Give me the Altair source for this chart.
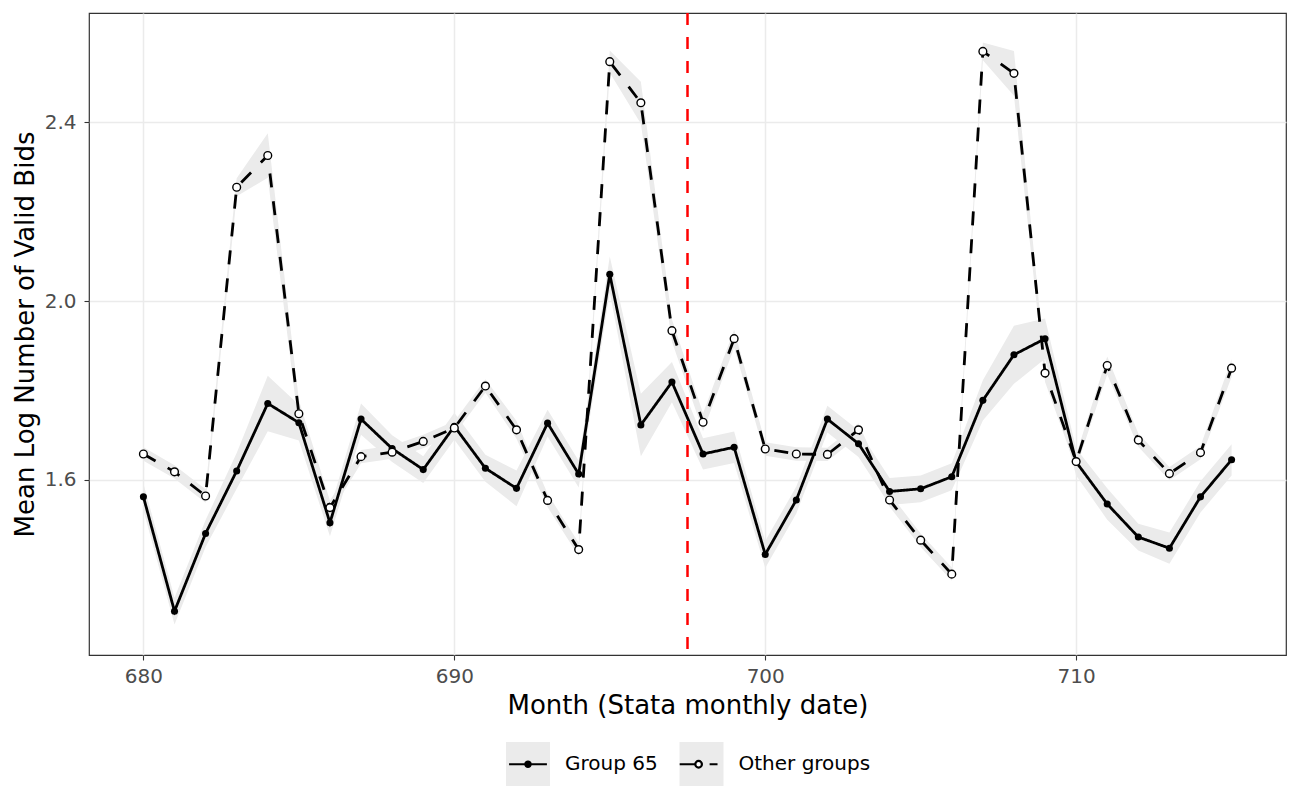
import altair as alt
import pandas as pd

months = list(range(680, 716))
groups = ["Group 65", "Other groups"]

g65_mean = [1.562, 1.306, 1.480, 1.620, 1.771, 1.728, 1.504, 1.736, 1.670, 1.623,
            1.720, 1.626, 1.581, 1.727, 1.613, 2.060, 1.723, 1.819, 1.658, 1.673,
            1.433, 1.555, 1.736, 1.681, 1.574, 1.580, 1.607, 1.778, 1.880, 1.916,
            1.640, 1.546, 1.472, 1.447, 1.562, 1.645]
g65_ci = [0.030, 0.030, 0.030, 0.040, 0.062, 0.040, 0.030, 0.035, 0.030, 0.030,
          0.030, 0.030, 0.040, 0.030, 0.030, 0.040, 0.070, 0.045, 0.035, 0.035,
          0.030, 0.030, 0.030, 0.030, 0.030, 0.030, 0.030, 0.045, 0.065, 0.045,
          0.030, 0.035, 0.030, 0.035, 0.035, 0.035]

oth_mean = [1.658, 1.618, 1.564, 2.255, 2.326, 1.748, 1.538, 1.652, 1.662, 1.686,
            1.716, 1.810, 1.712, 1.554, 1.444, 2.536, 2.444, 1.934, 1.729, 1.916,
            1.669, 1.658, 1.657, 1.712, 1.555, 1.465, 1.389, 2.559, 2.510, 1.839,
            1.641, 1.856, 1.689, 1.614, 1.661, 1.850]
oth_ci = [0.015, 0.015, 0.015, 0.020, 0.050, 0.030, 0.015, 0.015, 0.015, 0.015,
          0.015, 0.015, 0.020, 0.015, 0.015, 0.025, 0.047, 0.025, 0.020, 0.020,
          0.015, 0.015, 0.015, 0.015, 0.015, 0.015, 0.015, 0.020, 0.050, 0.020,
          0.015, 0.020, 0.015, 0.015, 0.015, 0.020]

cutoff = [697.5]
x_ticks = [680, 690, 700, 710]
y_ticks = [1.6, 2.0, 2.4]

rows = []
for g, means, cis in [(groups[0], g65_mean, g65_ci), (groups[1], oth_mean, oth_ci)]:
    for m, v, c in zip(months, means, cis):
        rows.append({"month": m, "group": g, "group_b": g, "group_c": g,
                     "mean": v, "lo": v - c, "hi": v + c})
df = pd.DataFrame(rows)
cut_df = pd.DataFrame({"month": cutoff})

FONT = "DejaVu Sans"

x_axis = alt.Axis(values=x_ticks, format="d", title="Month (Stata monthly date)",
                  labelFont=FONT, labelFontSize=20, labelColor="#4d4d4d", labelPadding=6,
                  titleFont=FONT, titleFontSize=26, titleColor="black", titleFontWeight="normal",
                  titlePadding=6, tickColor="#333333", tickSize=5, tickWidth=1.1,
                  gridColor="#ebebeb", gridWidth=1.5, domain=False)
y_axis = alt.Axis(values=y_ticks, format=".1f", title="Mean Log Number of Valid Bids",
                  labelFont=FONT, labelFontSize=20, labelColor="#4d4d4d", labelPadding=8,
                  titleFont=FONT, titleFontSize=26, titleColor="black", titleFontWeight="normal",
                  titlePadding=6, tickColor="#333333", tickSize=5, tickWidth=1.1,
                  gridColor="#ebebeb", gridWidth=1.5, domain=False)

x_scale = alt.Scale(domain=[678.25, 716.75], nice=False, zero=False)
y_scale = alt.Scale(domain=[1.208, 2.645], nice=False, zero=False)

X = alt.X("month:Q", scale=x_scale, axis=x_axis)
Y = alt.Y("mean:Q", scale=y_scale, axis=y_axis)

LEG_X = 415.5
LEG_Y = 727.5
common_leg = dict(orient="none", direction="horizontal", legendX=LEG_X, legendY=LEG_Y,
                  title=None, symbolSize=1936, symbolStrokeWidth=2.2, symbolOpacity=1,
                  labelFontSize=20, labelFont=FONT, labelOffset=13.5, padding=0)

# key backgrounds (ribbon) with the visible labels
leg_a = alt.Legend(symbolType="square", symbolStrokeColor="transparent",
                   labelColor="black", columnPadding=16.5, **common_leg)
# line + point keys drawn on top of them (no labels of their own)
leg_b = alt.Legend(labelExpr="''", zindex=2, columnPadding=16.5 + 93.1, **common_leg)

path_g65 = ("M-0.86,0L0.86,0M0.12,0A0.12,0.12,0,1,1,-0.12,0"
            "A0.12,0.12,0,1,1,0.12,0Z")
path_oth = ("M-0.86,0L-0.15,0M0.15,0A0.15,0.15,0,1,1,-0.15,0"
            "A0.15,0.15,0,1,1,0.15,0ZM0.5,0L0.86,0")

ribbon = alt.Chart(df).mark_area(opacity=1).encode(
    x=X,
    y=alt.Y("lo:Q", scale=y_scale, axis=y_axis),
    y2="hi:Q",
    color=alt.Color("group:N", scale=alt.Scale(range=["#ebebeb", "#ebebeb"]), legend=leg_a),
)

lines = alt.Chart(df).mark_line(color="black", strokeWidth=2.8).encode(
    x=X, y=Y,
    strokeDash=alt.StrokeDash("group_c:N",
                              scale=alt.Scale(range=[[1, 0], [14, 14]]),
                              legend=None),
)

pts_g65 = alt.Chart(df).transform_filter(
    alt.datum.group == groups[0]
).mark_point(filled=True, color="black", size=50, opacity=1).encode(x=X, y=Y)

pts_oth = alt.Chart(df).transform_filter(
    alt.datum.group == groups[1]
).mark_point(filled=True, fill="white", stroke="black", strokeWidth=1.4,
             size=60, opacity=1).encode(x=X, y=Y)

legend_layer = alt.Chart(df).mark_point(
    filled=True, strokeWidth=2.2, opacity=1, size=0
).encode(
    x=X, y=Y,
    shape=alt.Shape("group_b:N", scale=alt.Scale(domain=groups, range=[path_g65, path_oth]),
                    legend=leg_b),
    fill=alt.Fill("group_b:N", scale=alt.Scale(domain=groups, range=["black", "white"]),
                  legend=leg_b),
    stroke=alt.Stroke("group_b:N", scale=alt.Scale(domain=groups, range=["black", "black"]),
                      legend=leg_b),
)

vline = alt.Chart(cut_df).mark_rule(color="red", strokeWidth=2.5, strokeDash=[12, 12]).encode(
    x=alt.X("month:Q", scale=x_scale, axis=x_axis)
)

chart = alt.layer(ribbon, lines, pts_g65, pts_oth, legend_layer, vline).properties(
    width=1197, height=642,
    autosize=alt.AutoSizeParams(type="none"),
    padding={"left": 81, "top": 5, "right": 6, "bottom": 137},
    background="white",
).configure_view(stroke="#333333", strokeWidth=1.2)

chart.save("out.html", embed_options={"renderer": "svg", "actions": False})
